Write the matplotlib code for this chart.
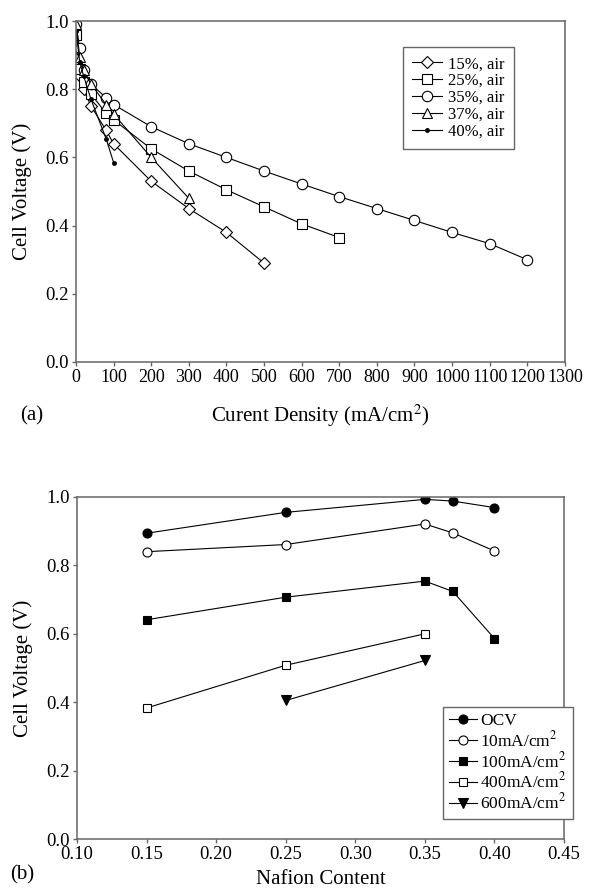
import numpy as np
import matplotlib
matplotlib.use('Agg')
import matplotlib.pyplot as plt

plt.rcParams['font.family'] = ['Liberation Serif', 'DejaVu Serif']
plt.rcParams['mathtext.fontset'] = 'stix'

# (a) 電流密度 vs セル電圧
cd_15 = [0, 10, 20, 40, 80, 100, 200, 300, 400, 500]
v_15 = [0.89, 0.84, 0.80, 0.75, 0.68, 0.64, 0.53, 0.45, 0.38, 0.29]
cd_25 = [0, 10, 20, 40, 80, 100, 200, 300, 400, 500, 600, 700]
v_25 = [0.96, 0.86, 0.82, 0.785, 0.73, 0.71, 0.625, 0.56, 0.505, 0.455, 0.405, 0.365]
cd_35 = [0, 10, 20, 40, 80, 100, 200, 300, 400, 500, 600, 700, 800, 900, 1000, 1100, 1200]
v_35 = [0.99, 0.92, 0.855, 0.815, 0.775, 0.755, 0.69, 0.64, 0.60, 0.56, 0.522, 0.485, 0.45, 0.415, 0.38, 0.347, 0.30]
cd_37 = [0, 10, 20, 40, 80, 100, 200, 300]
v_37 = [0.99, 0.895, 0.855, 0.815, 0.755, 0.727, 0.60, 0.48]
cd_40 = [0, 10, 20, 40, 80, 100]
v_40 = [0.97, 0.88, 0.84, 0.77, 0.655, 0.585]

# (b) Nafion 含有量 vs セル電圧
nafion = [0.15, 0.25, 0.35, 0.37, 0.40]
v_ocv = [0.894, 0.955, 0.993, 0.988, 0.969]
v_10 = [0.84, 0.861, 0.921, 0.895, 0.842]
v_100 = [0.641, 0.707, 0.754, 0.724, 0.586]
nafion_400 = [0.15, 0.25, 0.35]
v_400 = [0.383, 0.508, 0.60]
nafion_600 = [0.25, 0.35]
v_600 = [0.405, 0.522]

spine_c = '#666666'

fig = plt.figure(figsize=(5.89, 8.90), dpi=100)

def style(ax, xsize, ysize):
    for s in ax.spines.values():
        s.set_color(spine_c)
        s.set_linewidth(1.1)
    ax.tick_params(direction='out', length=3, width=1, color=spine_c,
                   top=False, right=False, pad=2)
    ax.tick_params(axis='x', labelsize=xsize)
    ax.tick_params(axis='y', labelsize=ysize)

# ---- (a) ----
ax1 = fig.add_axes([0.129, 0.5933, 0.830, 0.3831])
kw = dict(color='black', lw=0.8, mfc='white', mec='black', mew=0.8)
ax1.plot(cd_15, v_15, marker='D', ms=6, label='15%, air', **kw)
ax1.plot(cd_25, v_25, marker='s', ms=6.5, label='25%, air', **kw)
ax1.plot(cd_35, v_35, marker='o', ms=7.5, label='35%, air', **kw)
ax1.plot(cd_37, v_37, marker='^', ms=7.5, label='37%, air', **kw)
ax1.plot(cd_40, v_40, marker='.', ms=5, color='black', lw=0.8, label='40%, air')
ax1.set_xlim(0, 1300)
ax1.set_ylim(0, 1.0)
ax1.set_xticks(np.arange(0, 1301, 100))
ax1.set_yticks(np.arange(0, 1.01, 0.2))
ax1.yaxis.set_major_formatter(matplotlib.ticker.FormatStrFormatter('%.1f'))
style(ax1, 13, 13.5)
ax1.set_xlabel('Curent Density (mA/cm$^2$)', fontsize=15, labelpad=12)
ax1.set_ylabel('Cell Voltage (V)', fontsize=15, labelpad=10)
leg1 = ax1.legend(loc='upper left', bbox_to_anchor=(403/589, 1-47/890),
                  bbox_transform=fig.transFigure, fontsize=12, fancybox=False,
                  edgecolor=spine_c, framealpha=1, handlelength=1.8,
                  handletextpad=0.35, labelspacing=0.05, borderpad=0.55,
                  borderaxespad=0)
leg1.get_frame().set_linewidth(1.0)
fig.text(20/589, 1-416/890, '(a)', fontsize=15, va='center', ha='left')

# ---- (b) ----
ax2 = fig.add_axes([0.1307, 0.0573, 0.827, 0.3843])
kb = dict(color='black', lw=0.8, mec='black', mew=0.8)
ax2.plot(nafion, v_ocv, marker='o', ms=6.5, mfc='black', label='OCV', **kb)
ax2.plot(nafion, v_10, marker='o', ms=6.5, mfc='white', label='10mA/cm$^2$', **kb)
ax2.plot(nafion, v_100, marker='s', ms=5.5, mfc='black', label='100mA/cm$^2$', **kb)
ax2.plot(nafion_400, v_400, marker='s', ms=5.5, mfc='white', label='400mA/cm$^2$', **kb)
ax2.plot(nafion_600, v_600, marker='v', ms=6.5, mfc='black', label='600mA/cm$^2$', **kb)
ax2.set_xlim(0.10, 0.45)
ax2.set_ylim(0, 1.0)
ax2.set_xticks(np.arange(0.10, 0.451, 0.05))
ax2.set_yticks(np.arange(0, 1.01, 0.2))
ax2.xaxis.set_major_formatter(matplotlib.ticker.FormatStrFormatter('%.2f'))
ax2.yaxis.set_major_formatter(matplotlib.ticker.FormatStrFormatter('%.1f'))
style(ax2, 13.5, 13.5)
ax2.set_xlabel('Nafion Content', fontsize=15, labelpad=5)
ax2.set_ylabel('Cell Voltage (V)', fontsize=15, labelpad=10)
leg2 = ax2.legend(loc='upper left', bbox_to_anchor=(443/589, 1-707/890),
                  bbox_transform=fig.transFigure, fontsize=12.5, fancybox=False,
                  edgecolor=spine_c, framealpha=1, handlelength=1.6,
                  handletextpad=0.2, labelspacing=0.05, borderpad=0.35,
                  borderaxespad=0)
leg2.get_frame().set_linewidth(1.0)
fig.text(10/589, 1-875/890, '(b)', fontsize=15, va='center', ha='left')

fig.savefig('out.png', dpi=100)
